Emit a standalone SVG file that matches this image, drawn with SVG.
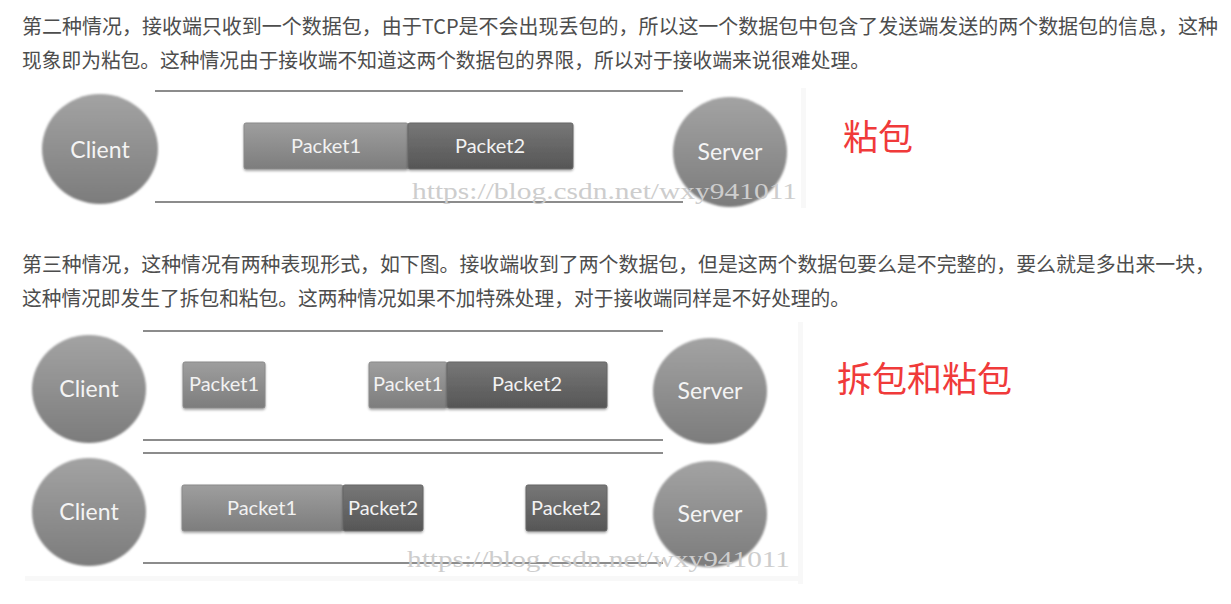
<svg xmlns="http://www.w3.org/2000/svg" width="1231" height="604" viewBox="0 0 1231 604">
<defs>
<linearGradient id="gCircle" x1="0" y1="0" x2="0" y2="1">
<stop offset="0" stop-color="#a3a3a3"/>
<stop offset="1" stop-color="#7c7c7c"/>
</linearGradient>
<linearGradient id="gP1" x1="0" y1="0" x2="0" y2="1">
<stop offset="0" stop-color="#9e9e9e"/>
<stop offset="1" stop-color="#7d7d7d"/>
</linearGradient>
<linearGradient id="gP2" x1="0" y1="0" x2="0" y2="1">
<stop offset="0" stop-color="#777777"/>
<stop offset="1" stop-color="#565656"/>
</linearGradient>
<filter id="soft" x="-20%" y="-20%" width="140%" height="140%">
<feGaussianBlur stdDeviation="1.2"/>
</filter>
<filter id="shadow" x="-20%" y="-20%" width="140%" height="150%">
<feDropShadow dx="0" dy="1.5" stdDeviation="1.2" flood-color="#000" flood-opacity="0.35"/>
</filter>
</defs>
<style>
.para{font-family:"Noto Sans CJK SC","Noto Sans",sans-serif;font-size:20px;fill:#4d4d4d}
.red{font-family:"Noto Sans CJK SC",sans-serif;font-size:35px;fill:#f03a3a}
.circle{fill:url(#gCircle);filter:url(#soft)}
.ctext{font-family:Lato,"Open Sans",sans-serif;font-size:23px;fill:#f4f4f4;text-anchor:middle}
.ptext{font-family:Lato,"Open Sans",sans-serif;font-size:20px;fill:#f2f2f2;text-anchor:middle}
.p1{fill:url(#gP1);stroke:#8a8a8a;stroke-width:1;filter:url(#shadow)}
.p2{fill:url(#gP2);stroke:#666;stroke-width:1;filter:url(#shadow)}
.line{stroke:#8c8c8c;stroke-width:2;fill:none}
.wm{font-family:"Liberation Serif",serif;font-size:24px;fill:#cdcdcd}
.noise{fill:#f8f8f8}
</style>
<rect width="1231" height="604" fill="#ffffff"/>

<g id="para1">
<text class="para" x="22" y="34" textLength="1196" lengthAdjust="spacingAndGlyphs">第二种情况，接收端只收到一个数据包，由于TCP是不会出现丢包的，所以这一个数据包中包含了发送端发送的两个数据包的信息，这种</text>
<text class="para" x="22" y="68" textLength="848" lengthAdjust="spacingAndGlyphs">现象即为粘包。这种情况由于接收端不知道这两个数据包的界限，所以对于接收端来说很难处理。</text>
</g>

<g id="image1">
<rect class="noise" x="801" y="88" width="5" height="120"/>
<g id="lines1">
<line class="line" x1="155" y1="91" x2="683" y2="91"/>
<line class="line" x1="155" y1="202" x2="683" y2="202"/>
</g>
<g id="client1">
<ellipse class="circle" cx="100" cy="149" rx="58" ry="55"/>
<text class="ctext" x="100" y="158">Client</text>
</g>
<g id="packet1a">
<rect class="p1" x="244" y="123" width="164" height="46" rx="2"/>
<text class="ptext" x="326" y="153">Packet1</text>
</g>
<g id="packet2a">
<rect class="p2" x="408" y="123" width="165" height="46" rx="2"/>
<text class="ptext" x="490" y="153">Packet2</text>
</g>
<g id="server1">
<ellipse class="circle" cx="730" cy="152" rx="57" ry="55"/>
<text class="ctext" x="730" y="160">Server</text>
</g>
<text class="wm" x="412" y="199" textLength="385" lengthAdjust="spacingAndGlyphs">https://blog.csdn.net/wxy941011</text>
</g>

<g id="label1">
<text class="red" x="843" y="150">粘包</text>
</g>

<g id="para3">
<text class="para" x="22" y="272" textLength="1193" lengthAdjust="spacingAndGlyphs">第三种情况，这种情况有两种表现形式，如下图。接收端收到了两个数据包，但是这两个数据包要么是不完整的，要么就是多出来一块，</text>
<text class="para" x="22" y="306" textLength="828" lengthAdjust="spacingAndGlyphs">这种情况即发生了拆包和粘包。这两种情况如果不加特殊处理，对于接收端同样是不好处理的。</text>
</g>

<g id="image2">
<rect class="noise" x="798" y="322" width="5" height="262"/>
<rect class="noise" x="25" y="576" width="778" height="5"/>
<g id="lines2">
<line class="line" x1="143" y1="331" x2="663" y2="331"/>
<line class="line" x1="143" y1="440" x2="663" y2="440"/>
<line class="line" x1="143" y1="453" x2="663" y2="453"/>
<line class="line" x1="143" y1="563" x2="663" y2="563"/>
</g>
<g id="client2">
<ellipse class="circle" cx="89" cy="389" rx="57" ry="54"/>
<text class="ctext" x="89" y="397">Client</text>
</g>
<g id="packet1b">
<rect class="p1" x="183" y="362" width="82" height="46" rx="2"/>
<text class="ptext" x="224" y="391">Packet1</text>
</g>
<g id="packet1c">
<rect class="p1" x="369" y="362" width="78" height="46" rx="2"/>
<text class="ptext" x="408" y="391">Packet1</text>
</g>
<g id="packet2b">
<rect class="p2" x="447" y="362" width="160" height="46" rx="2"/>
<text class="ptext" x="527" y="391">Packet2</text>
</g>
<g id="server2">
<ellipse class="circle" cx="710" cy="391" rx="57" ry="53"/>
<text class="ctext" x="710" y="399">Server</text>
</g>
<g id="client3">
<ellipse class="circle" cx="89" cy="512" rx="57" ry="54"/>
<text class="ctext" x="89" y="520">Client</text>
</g>
<g id="packet1d">
<rect class="p1" x="182" y="485" width="161" height="46" rx="2"/>
<text class="ptext" x="262" y="515">Packet1</text>
</g>
<g id="packet2c">
<rect class="p2" x="343" y="485" width="80" height="46" rx="2"/>
<text class="ptext" x="383" y="515">Packet2</text>
</g>
<g id="packet2d">
<rect class="p2" x="526" y="485" width="81" height="46" rx="2"/>
<text class="ptext" x="566" y="515">Packet2</text>
</g>
<g id="server3">
<ellipse class="circle" cx="710" cy="514" rx="57" ry="53"/>
<text class="ctext" x="710" y="522">Server</text>
</g>
<text class="wm" x="407" y="567" textLength="383" lengthAdjust="spacingAndGlyphs">https://blog.csdn.net/wxy941011</text>
</g>

<g id="label2">
<text class="red" x="837" y="392">拆包和粘包</text>
</g>
</svg>
